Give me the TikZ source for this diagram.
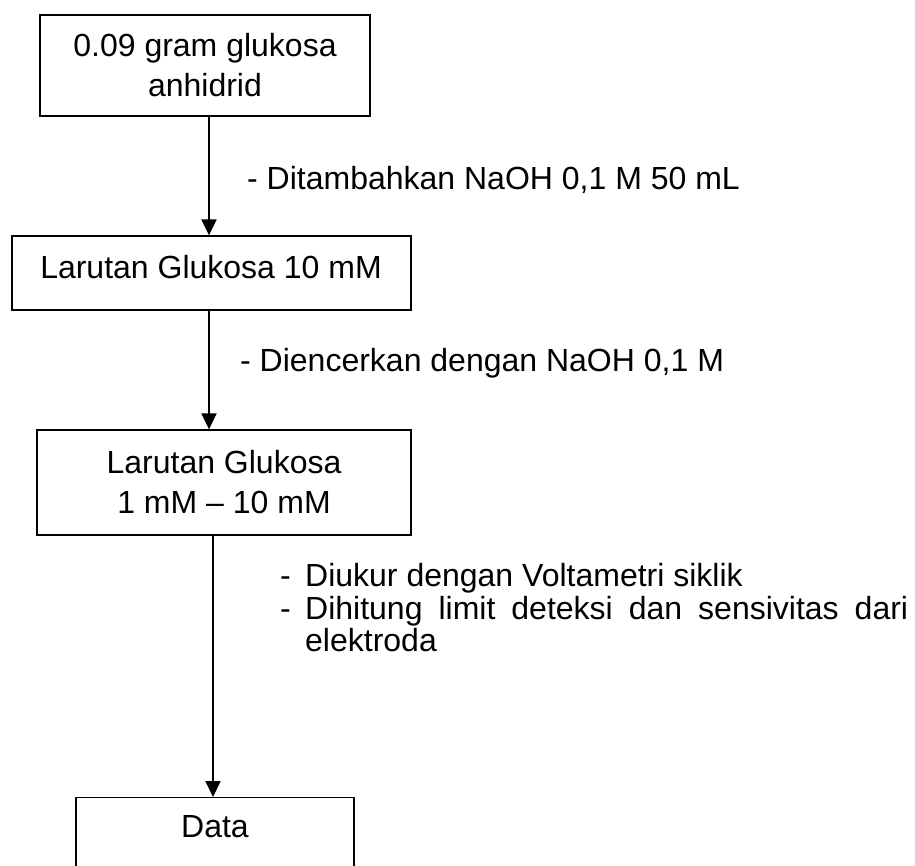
\documentclass[tikz,border=0pt]{standalone}
\usepackage{fontspec}
\setmainfont{Liberation Sans}
\usetikzlibrary{arrows.meta}
\begin{document}
\begin{tikzpicture}[x=1pt,y=1pt,
  box/.style={draw, line width=1.3pt, rectangle, inner sep=0pt, align=center,
    font=\fontsize{32pt}{40pt}\selectfont},
  txt/.style={inner sep=0pt, font=\fontsize{32pt}{40pt}\selectfont},
  arr/.style={line width=2pt, -{Triangle[length=16pt,width=15pt]}}]
\useasboundingbox (0,0) rectangle (915,-865);
\clip (0,0) rectangle (915,-865);
% boxes
\node[box, minimum width=330pt, minimum height=101pt] (b1) at (205,-65.5)
  {0.09 gram glukosa\\anhidrid};
\node[box, minimum width=399pt, minimum height=74pt] (b2) at (211.5,-273) {};
\node[txt] (t2) at (211,-267) {Larutan Glukosa 10 mM};
\node[box, minimum width=374pt, minimum height=105pt] (b3) at (224,-482.5)
  {Larutan Glukosa\\1 mM -- 10 mM};
\node[box, minimum width=278pt, minimum height=110pt, anchor=north] (b4) at (215,-797) {};
\node[txt] (t4) at (215,-827) {Data};
% arrows
\coordinate (c1) at (209,0);
\coordinate (c3) at (213,0);
\draw[arr] (b1.south -| c1) -- (b2.north -| c1);
\draw[arr] (b2.south -| c1) -- (b3.north -| c1);
\draw[arr] (b3.south -| c3) -- (b4.north -| c3);
% labels
\node[txt, anchor=base west] (l1) at (247,-189) {- Ditambahkan NaOH 0,1 M 50 mL};
\node[txt, anchor=base west] (l2) at (240,-371) {- Diencerkan dengan NaOH 0,1 M};
\node[txt, anchor=base west] (d1) at (280,-586) {-};
\node[txt, anchor=base west] (s1) at (305,-586) {Diukur dengan Voltametri siklik};
\node[txt, anchor=base west] (d2) at (280,-619) {-};
\node[txt, anchor=base west] (s2) at (305,-619) {\makebox[603pt][s]{Dihitung limit deteksi dan sensivitas dari}};
\node[txt, anchor=base west] (s3) at (305,-651) {elektroda};
\end{tikzpicture}
\end{document}
